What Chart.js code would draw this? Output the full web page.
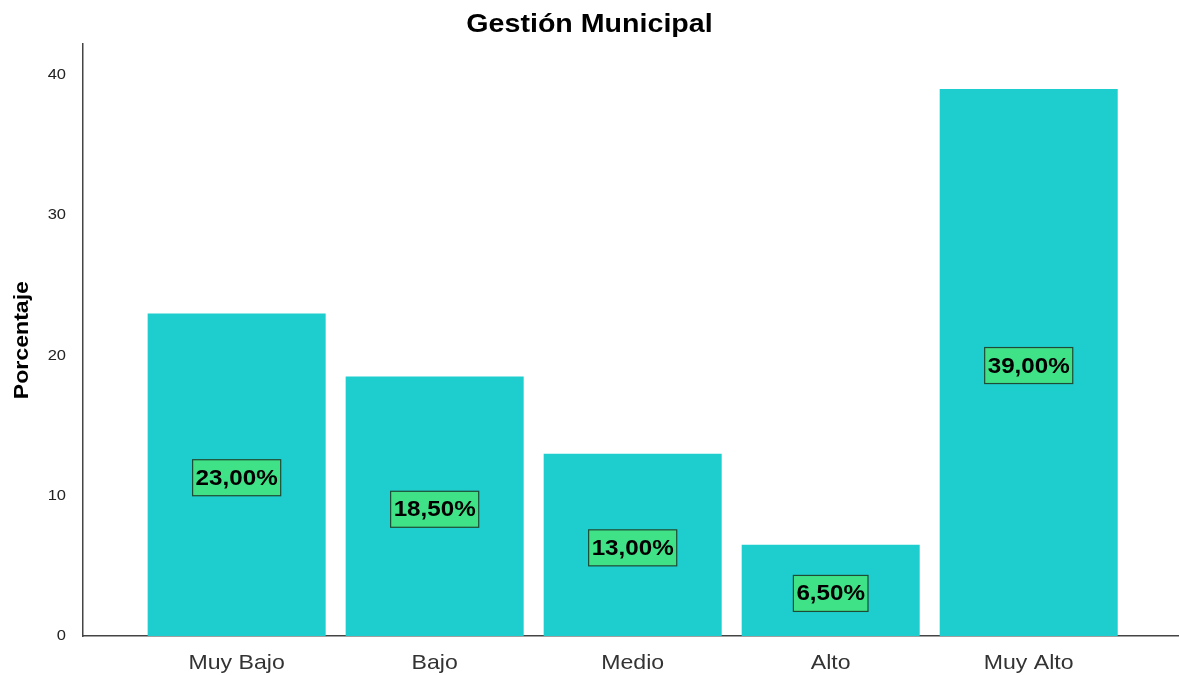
<!DOCTYPE html>
<html>
<head>
<meta charset="utf-8">
<script src="https://cdn.jsdelivr.net/npm/chart.js@4"></script>
<style>
  html, body { margin: 0; padding: 0; background: #fff; }
  #box { width: 1179px; height: 675px; }
</style>
</head>
<body>
<div id="box"><canvas id="c"></canvas></div>
<script>
// ── Daten ───────────────────────────────────────────────────────────────────
const categorias  = ['Muy Bajo', 'Bajo', 'Medio', 'Alto', 'Muy Alto'];
const porcentajes = [23.0, 18.5, 13.0, 6.5, 39.0];
const etiquetas   = ['23,00%', '18,50%', '13,00%', '6,50%', '39,00%'];
const ticksY      = [0, 10, 20, 30, 40];

const FONT = '"Liberation Sans", Arial, sans-serif';

// Die Vorlage (SPSS-Export) hat leicht breit gezogene Schrift. Nachbau:
// fillText/measureText dieses Kontexts in x skalieren.
const STRETCH = 1.1;
const canvas = document.getElementById('c');
const ctx0 = canvas.getContext('2d');
const _fill = ctx0.fillText.bind(ctx0), _meas = ctx0.measureText.bind(ctx0);
ctx0.fillText = function (t, x, y) {
  this.save();
  this.translate(x, y);
  this.scale(STRETCH, 1);
  _fill(t, 0, 0);
  this.restore();
};
ctx0.measureText = function (t) {
  const m = _meas(t);
  return { width: m.width * STRETCH,
           actualBoundingBoxAscent: m.actualBoundingBoxAscent,
           actualBoundingBoxDescent: m.actualBoundingBoxDescent,
           actualBoundingBoxLeft: m.actualBoundingBoxLeft * STRETCH,
           actualBoundingBoxRight: m.actualBoundingBoxRight * STRETCH };
};

// Etiketten mittig im Balken, gruener Kasten mit dunklem Rand.
const boxLabels = {
  id: 'boxLabels',
  afterDatasetsDraw(ch) {
    const { ctx } = ch;
    const meta = ch.getDatasetMeta(0);
    ctx.save();
    ctx.font = 'bold 22px ' + FONT;
    ctx.textAlign = 'center';
    ctx.textBaseline = 'middle';
    meta.data.forEach((bar, i) => {
      const txt = etiquetas[i];
      const w = ctx.measureText(txt).width + 6, h = 36;
      const cx = bar.x, cy = (bar.y + bar.base) / 2 + 3;
      ctx.fillStyle = '#40e288';
      ctx.fillRect(cx - w / 2, cy - h / 2, w, h);
      ctx.strokeStyle = '#1f4a33';
      ctx.lineWidth = 1.2;
      ctx.strokeRect(cx - w / 2, cy - h / 2, w, h);
      ctx.fillStyle = '#000';
      ctx.fillText(txt, cx, cy + 1);
    });
    ctx.restore();
  },
};

new Chart(canvas, {
  type: 'bar',
  data: {
    datasets: [{
      data: porcentajes.map((v, i) => ({ x: i, y: v })),
      backgroundColor: '#1ecece',
      borderWidth: 0,
      barPercentage: 0.899,
      categoryPercentage: 1,
    }],
  },
  options: {
    responsive: true, maintainAspectRatio: false, animation: false,
    layout: { padding: 0 },
    scales: {
      x: {
        type: 'linear', min: -0.776, max: 4.759, offset: false,
        grid: { display: false, offset: false },
        border: { display: true, color: '#444', width: 1.5 },
        ticks: {
          stepSize: 1, includeBounds: false, autoSkip: false, maxRotation: 0,
          padding: 7, color: '#333', font: { family: FONT, size: 21 },
          callback: v => Number.isInteger(v) ? categorias[v] : '',
        },
        afterFit: s => { s.height = 39; },
      },
      y: {
        min: 0, max: 42.2,
        afterBuildTicks: s => { s.ticks = ticksY.map(v => ({ value: v })); },
        grid: { display: false },
        border: { display: true, color: '#444', width: 1.5 },
        ticks: { padding: 9, color: '#222', font: { family: FONT, size: 15 } },
        title: { display: true, text: 'Porcentaje', color: '#000',
                 font: { family: FONT, size: 21, weight: 'bold' },
                 padding: { top: 10, bottom: 0 } },
        afterFit: s => { s.width = 83; },
      },
    },
    plugins: {
      legend: { display: false },
      tooltip: { enabled: false },
      title: { display: true, text: 'Gestión Municipal', color: '#000',
               font: { family: FONT, size: 26, weight: 'bold' },
               padding: { top: 9, bottom: 4 } },
    },
  },
  plugins: [boxLabels],
});
</script>
</body>
</html>
